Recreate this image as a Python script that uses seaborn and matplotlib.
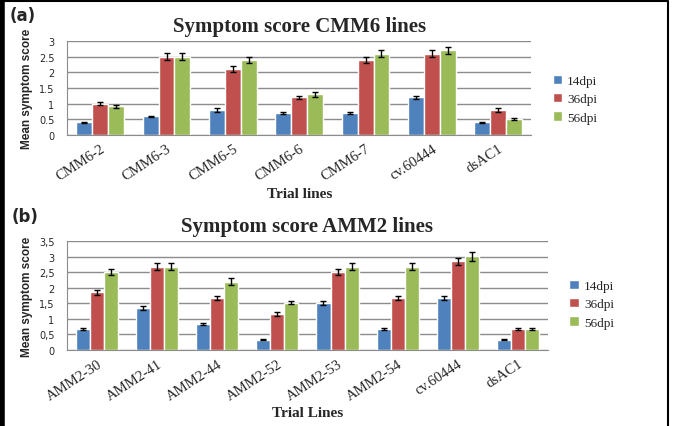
import numpy as np
import pandas as pd
import matplotlib.pyplot as plt
import seaborn as sns
from matplotlib.ticker import FixedLocator, FuncFormatter

sns.set_style('white')

# data
series = ['14dpi', '36dpi', '56dpi']
colors = ['#4F81BD', '#C0504D', '#9BBB59']

lines_a = ['CMM6-2', 'CMM6-3', 'CMM6-5', 'CMM6-6', 'CMM6-7', 'cv.60444', 'dsAC1']
d14_a = [0.40, 0.60, 0.80, 0.70, 0.70, 1.20, 0.40]
d36_a = [1.00, 2.50, 2.10, 1.20, 2.40, 2.60, 0.80]
d56_a = [0.92, 2.50, 2.40, 1.30, 2.60, 2.70, 0.50]
e14_a = [0.02, 0.02, 0.05, 0.04, 0.04, 0.05, 0.02]
e36_a = [0.05, 0.12, 0.10, 0.05, 0.10, 0.10, 0.05]
e56_a = [0.05, 0.12, 0.10, 0.08, 0.10, 0.12, 0.03]

lines_b = ['AMM2-30', 'AMM2-41', 'AMM2-44', 'AMM2-52', 'AMM2-53', 'AMM2-54', 'cv.60444', 'dsAC1']
d14_b = [0.67, 1.35, 0.83, 0.33, 1.50, 0.67, 1.67, 0.33]
d36_b = [1.85, 2.68, 1.67, 1.16, 2.50, 1.67, 2.85, 0.67]
d56_b = [2.50, 2.68, 2.20, 1.52, 2.68, 2.68, 3.01, 0.67]
e14_b = [0.04, 0.07, 0.04, 0.02, 0.06, 0.04, 0.06, 0.02]
e36_b = [0.08, 0.12, 0.07, 0.07, 0.10, 0.06, 0.12, 0.04]
e56_b = [0.10, 0.12, 0.10, 0.05, 0.12, 0.12, 0.14, 0.04]


def long_df(lines, vals, errs):
    rows = []
    for s, v, e in zip(series, vals, errs):
        for l, vi, ei in zip(lines, v, e):
            rows.append({'line': l, 'dpi': s, 'score': vi, 'err': ei})
    return pd.DataFrame(rows)


df_a = long_df(lines_a, [d14_a, d36_a, d56_a], [e14_a, e36_a, e56_a])
df_b = long_df(lines_b, [d14_b, d36_b, d56_b], [e14_b, e36_b, e56_b])

plt.rcParams['font.family'] = ['Liberation Serif', 'DejaVu Serif']

fig = plt.figure(figsize=(6.73, 4.27), dpi=100)


def panel(rect, df, lines, ymax, yticks, fmt, title, xlabel, xlab_y, width, legend_pos):
    ax = fig.add_axes(rect)
    sns.barplot(data=df, x='line', y='score', hue='dpi', order=lines,
                hue_order=series, palette=colors, width=width, errorbar=None,
                saturation=1, ax=ax)
    # error bars on each bar
    for cont, s in zip(ax.containers, series):
        sub = df[df.dpi == s].set_index('line').loc[lines]
        xs = [p.get_x() + p.get_width() / 2 for p in cont.patches]
        ax.errorbar(xs, sub.score, yerr=sub.err, fmt='none', ecolor='black',
                    elinewidth=1, capsize=2.5, capthick=1, zorder=5)
    ax.set_xlim(-0.5, len(lines) - 0.5)
    ax.set_ylim(0, ymax)
    ax.yaxis.set_major_locator(FixedLocator(yticks))
    ax.yaxis.set_major_formatter(FuncFormatter(fmt))
    ax.grid(axis='y', color='#8c8c8c', linewidth=1)
    ax.set_axisbelow(True)
    for sp in ['top', 'right']:
        ax.spines[sp].set_visible(False)
    for sp in ['left', 'bottom']:
        ax.spines[sp].set_color('#8c8c8c')
    ax.tick_params(axis='y', labelsize=7, length=3, color='#8c8c8c', pad=6)
    ax.tick_params(axis='x', labelsize=10.5, length=0, pad=5)
    for t in ax.get_yticklabels():
        t.set_family('DejaVu Sans')
    plt.setp(ax.get_xticklabels(), rotation=33, ha='right', rotation_mode='anchor')
    ax.set_ylabel('Mean symptom score', family='Liberation Sans',
                  fontweight='bold', fontsize=8.5, labelpad=4)
    ax.set_xlabel(xlabel, fontweight='bold', fontsize=11, va='center')
    ax.xaxis.set_label_coords(0.5, xlab_y)
    ax.set_title(title, fontweight='bold', fontsize=15, pad=7)
    ax.legend(loc='center left', bbox_to_anchor=legend_pos, frameon=False,
              fontsize=9.5, handlelength=0.7, handleheight=0.7, handletextpad=0.4,
              labelspacing=0.45)
    return ax


fmt_dot = lambda v, p: ('%g' % v)
fmt_comma = lambda v, p: ('%g' % v).replace('.', ',')

panel([0.0996, 0.6815, 0.690, 0.220], df_a, lines_a, 3.0,
      [0, 0.5, 1, 1.5, 2, 2.5, 3], fmt_dot, 'Symptom score CMM6 lines',
      'Trial lines', -0.62, 0.72, (1.02, 0.38))
panel([0.0996, 0.178, 0.7145, 0.255], df_b, lines_b, 3.5,
      [0, 0.5, 1, 1.5, 2, 2.5, 3, 3.5], fmt_comma, 'Symptom score AMM2 lines',
      'Trial Lines', -0.57, 0.7, (1.02, 0.42))

fig.text(0.015, 0.963, '(a)', family='DejaVu Sans', fontweight='bold', fontsize=12, va='center')
fig.text(0.018, 0.492, '(b)', family='DejaVu Sans', fontweight='bold', fontsize=12, va='center')

# outer frame like the original (no bottom edge visible)
fig.add_artist(plt.Line2D([0.003, 0.993, 0.993], [0.996, 0.996, 0.0],
                          transform=fig.transFigure, color='black', linewidth=1.5))
fig.add_artist(plt.Line2D([0.003, 0.003], [0, 1], transform=fig.transFigure,
                          color='black', linewidth=4))

fig.savefig('out.png', dpi=100)
